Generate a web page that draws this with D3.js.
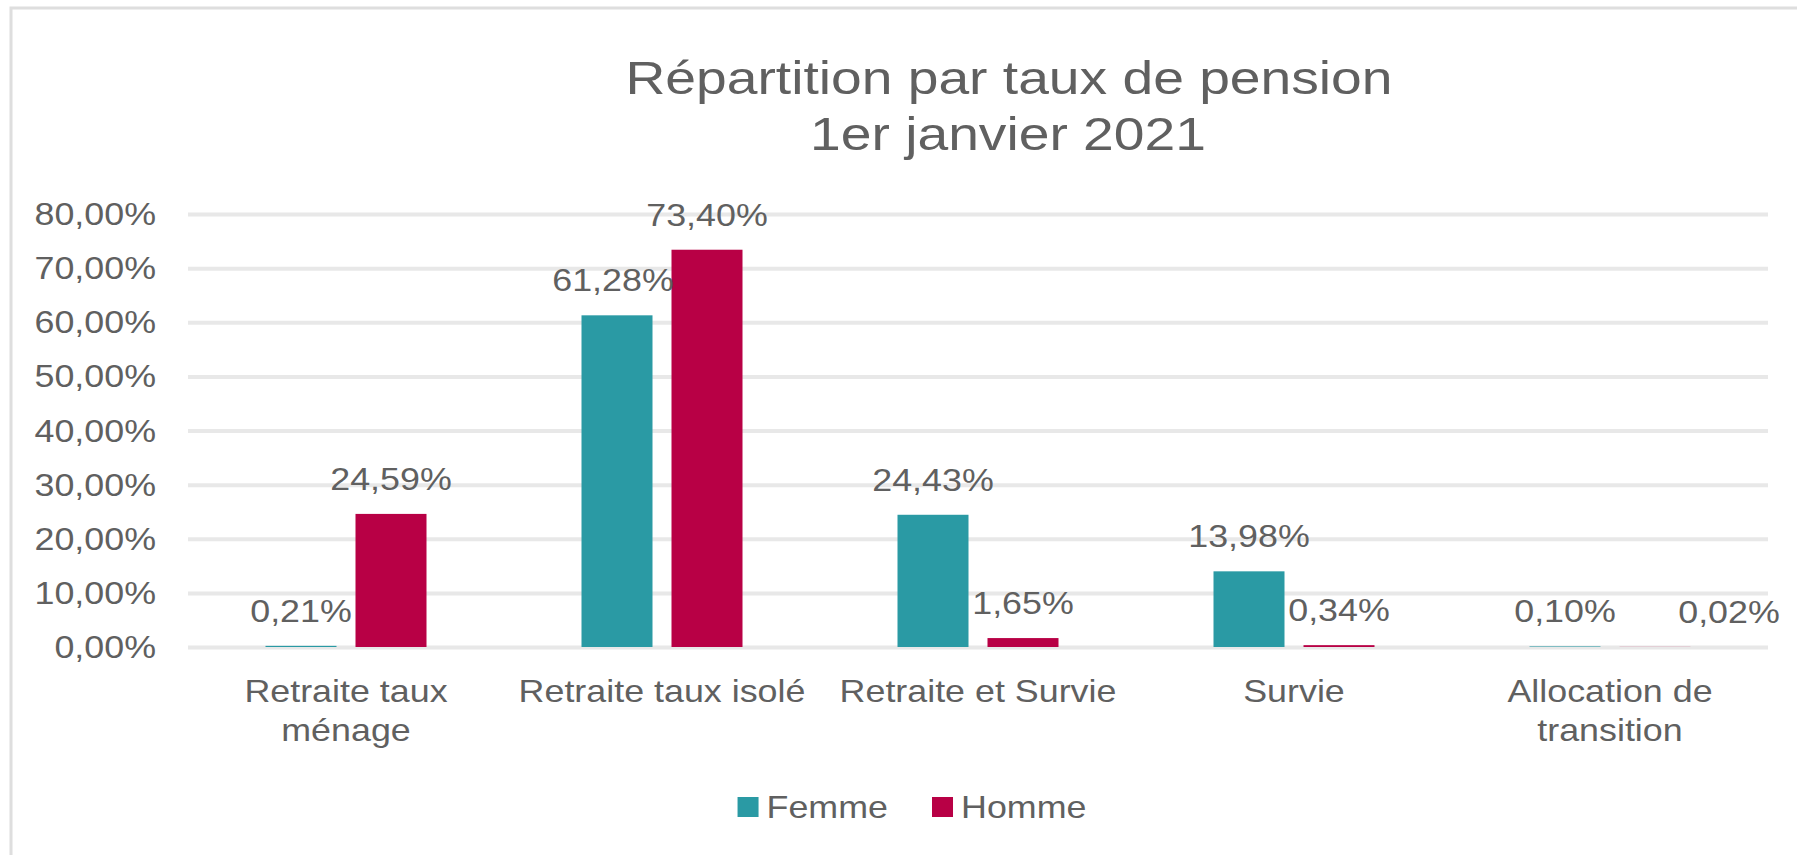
<!DOCTYPE html>
<html>
<head>
<meta charset="utf-8">
<script src="https://cdn.jsdelivr.net/npm/d3@7"></script>
<style>
  html, body { margin: 0; padding: 0; background: #fff; }
  svg { display: block; }
  text { font-family: "Liberation Sans", Arial, sans-serif; fill: #606060; }
</style>
</head>
<body>
<svg id="chart" width="1797" height="855"></svg>
<script>
// ---- data ----
const titleLines = ["Répartition par taux de pension", "1er janvier 2021"];
const categories = ["Retraite taux ménage", "Retraite taux isolé", "Retraite et Survie", "Survie", "Allocation de transition"];
const seriesNames = ["Femme", "Homme"];
const femme = [0.21, 61.28, 24.43, 13.98, 0.10];
const homme = [24.59, 73.40, 1.65, 0.34, 0.02];
const yTicks = [0, 10, 20, 30, 40, 50, 60, 70, 80];
const colors = { Femme: "#2a9aa4", Homme: "#b80045" };

// ---- layout ----
const W = 1797, H = 855;
const SX = 1.12;          // horizontal stretch of glyphs in the reference
const TSX = 1.2;          // title stretch
const plot = { left: 188, right: 1768, top: 214, bottom: 647 };
const svg = d3.select("#chart");

const locale = d3.formatLocale({ decimal: ",", thousands: " ", grouping: [3], currency: ["", "€"] });
const fmt = v => locale.format(".2f")(v) + "%";

// border
svg.append("rect").attr("x", 11).attr("y", 8).attr("width", W + 20).attr("height", H + 20)
  .attr("fill", "#fff").attr("stroke", "#dedede").attr("stroke-width", 3);

// helper for stretched text
function stext(g, x, y, str, size, anchor, sx) {
  return g.append("text")
    .attr("transform", `translate(${x},${y}) scale(${sx || SX},1)`)
    .attr("text-anchor", anchor || "middle")
    .attr("font-size", size)
    .text(str);
}

// title
stext(svg, 1009, 94, titleLines[0], 46, "middle", TSX);
stext(svg, 1008, 150, titleLines[1], 46, "middle", TSX);

// scales
const y = d3.scaleLinear().domain([0, 80]).range([plot.bottom, plot.top]);
const x0 = d3.scaleBand().domain(categories).range([plot.left, plot.right]).paddingInner(0).paddingOuter(0);
const groupW = 161;
const x1 = d3.scaleBand().domain(seriesNames)
  .range([(x0.bandwidth() - groupW) / 2, (x0.bandwidth() + groupW) / 2])
  .paddingInner(2 - groupW / 90).paddingOuter(0);

// gridlines + y ticks
const yAxis = d3.axisLeft(y).tickValues(yTicks).tickSize(-(plot.right - plot.left)).tickFormat("");
const ga = svg.append("g").attr("transform", `translate(${plot.left},0)`).call(yAxis);
ga.select(".domain").remove();
ga.selectAll(".tick line").attr("stroke", "#e8e8e8").attr("stroke-width", 4);
yTicks.forEach(t => {
  stext(svg, 156, y(t) + 11, fmt(t), 32, "end");
});

// bars
const rows = categories.map((c, i) => ({ cat: c, vals: [ { s: "Femme", v: femme[i] }, { s: "Homme", v: homme[i] } ] }));
const groups = svg.append("g").selectAll("g").data(rows).join("g")
  .attr("transform", d => `translate(${x0(d.cat)},0)`);
groups.selectAll("rect").data(d => d.vals).join("rect")
  .attr("x", d => x1(d.s))
  .attr("width", x1.bandwidth())
  .attr("y", d => y(d.v))
  .attr("height", d => y(0) - y(d.v))
  .attr("fill", d => colors[d.s]);

// data labels
rows.forEach((r, i) => {
  r.vals.forEach(d => {
    let cx = x0(r.cat) + x1(d.s) + x1.bandwidth() / 2;
    if (i === categories.length - 1 && d.s === "Homme") cx += 74; // label moved in the original
    if (i === 1 && d.s === "Femme") cx -= 4;
    stext(svg, cx, y(d.v) - 24, fmt(d.v), 32, "middle");
  });
});

// category labels with wrapping
const maxW = x0.bandwidth();
categories.forEach(c => {
  const cx = x0(c) + x0.bandwidth() / 2;
  const words = c.split(" ");
  const lines = [];
  let cur = [];
  const probe = svg.append("text").attr("font-size", 32);
  words.forEach(w => {
    const test = cur.concat([w]).join(" ");
    probe.text(test);
    if (probe.node().getComputedTextLength() * SX > maxW - 10 && cur.length) {
      lines.push(cur.join(" "));
      cur = [w];
    } else cur.push(w);
  });
  lines.push(cur.join(" "));
  probe.remove();
  lines.forEach((ln, k) => stext(svg, cx, 702 + k * 39, ln, 32, "middle"));
});

// legend
const legend = svg.append("g");
let lx = 0;
seriesNames.forEach((s, i) => {
  const g = legend.append("g");
  g.append("rect").attr("x", lx).attr("y", 797).attr("width", 21).attr("height", 20)
    .attr("fill", colors[s]);
  const t = stext(g, lx + 29, 818, s, 32, "start");
  const tw = t.node().getComputedTextLength() * SX;
  lx += 29 + tw + 44;
});
const totalW = lx - 44;
legend.attr("transform", `translate(${912 - totalW / 2},0)`);
</script>
</body>
</html>
